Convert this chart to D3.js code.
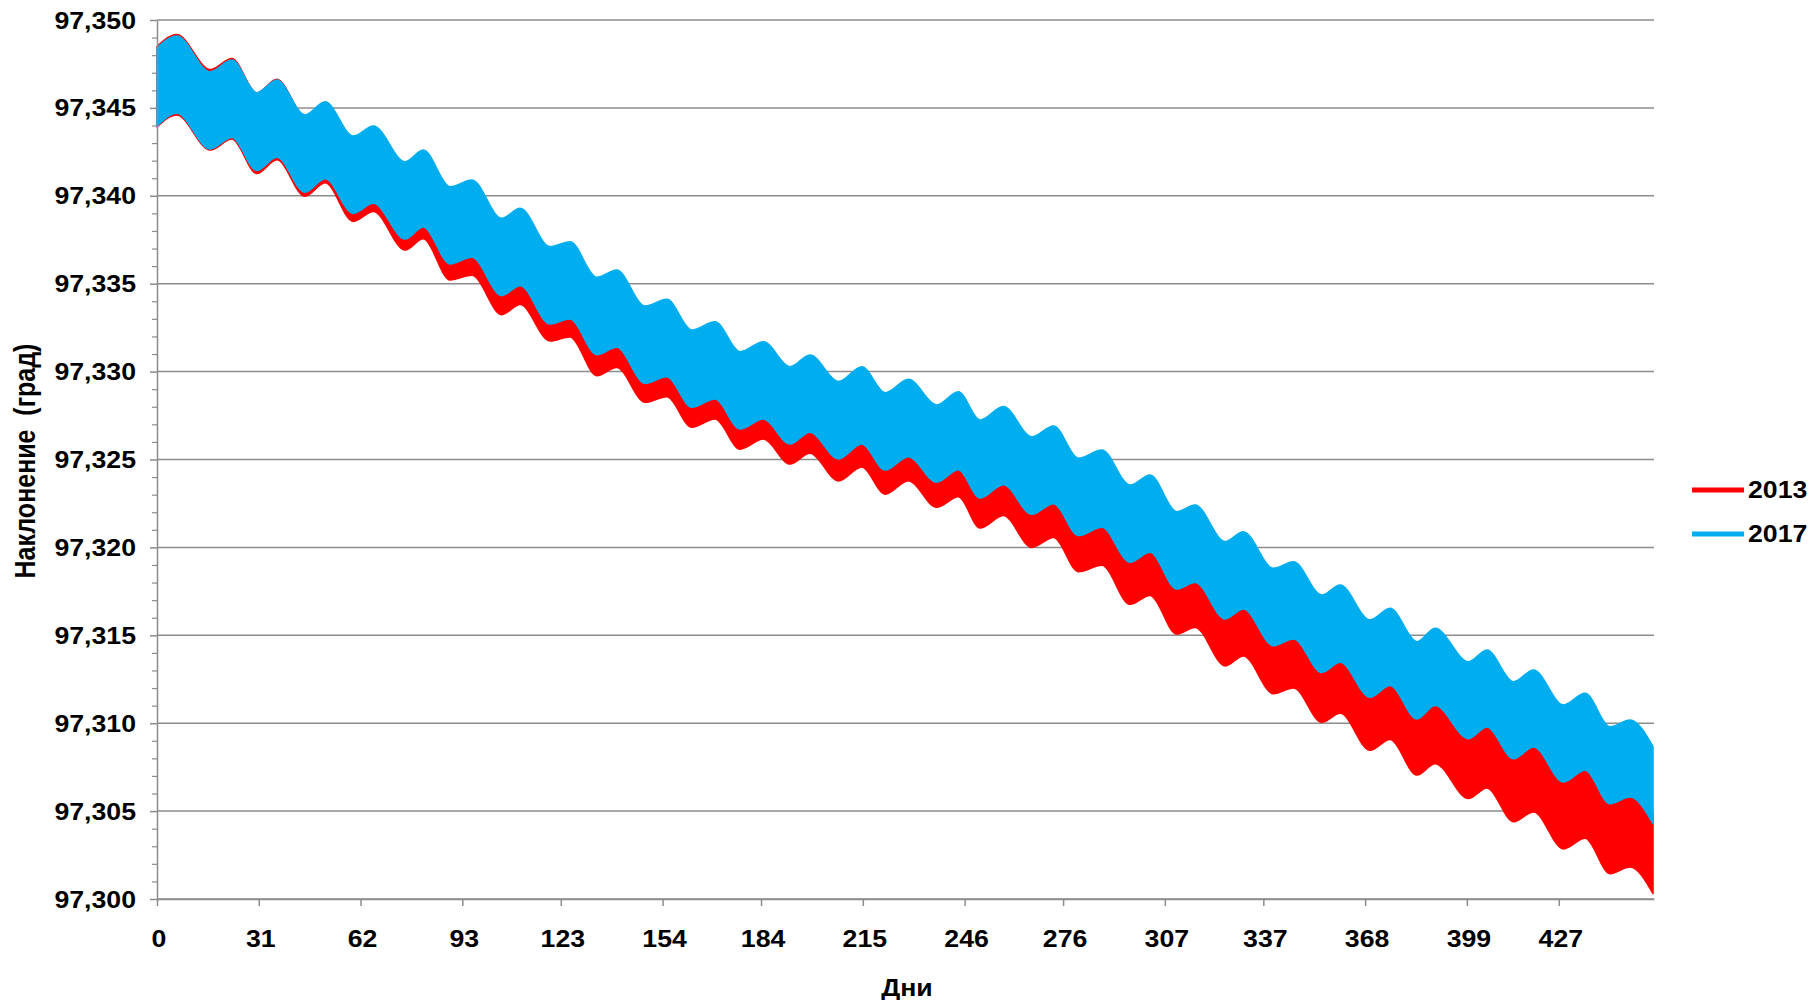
<!DOCTYPE html>
<html>
<head>
<meta charset="utf-8">
<script src="https://cdn.jsdelivr.net/npm/d3@7"></script>
<style>
  html, body { margin: 0; padding: 0; background: #ffffff; }
  svg text { font-family: "Liberation Sans", Arial, sans-serif; font-weight: bold; fill: #000; }
</style>
</head>
<body>
<svg id="chart" width="1816" height="1000"></svg>
<script>
// Envelope of the inclination oscillation: day of each turning point (peaks and troughs)
const days = [0, 6.0, 16.2, 22.8, 30.4, 36.5, 45.1, 51.2, 59.8, 65.9, 75.6, 81.1, 89.3, 95.9, 105.0, 110.6,
  119.7, 125.8, 134.0, 140.0, 148.7, 155.3, 162.9, 170.0, 177.6, 184.7, 192.8, 198.9, 207.6, 214.7, 221.8,
  228.9, 237.5, 244.1, 250.7, 257.8, 266.5, 273.1, 280.7, 287.8, 296.4, 302.5, 310.6, 316.2, 325.4, 330.9,
  340.1, 346.2, 354.8, 360.4, 369.5, 375.6, 383.8, 389.3, 399.5, 405.1, 413.2, 419.3, 428.4, 435.0, 442.6,
  448.7, 455.7];

// 2017: upper and lower envelope, degrees
const high2017 = [97.34841, 97.34909, 97.34706, 97.34772, 97.34586, 97.34659, 97.34460, 97.34535, 97.34340,
  97.34397, 97.34194, 97.34261, 97.34052, 97.34090, 97.33872, 97.33929, 97.33711, 97.33739, 97.33536, 97.33578,
  97.33373, 97.33411, 97.33237, 97.33284, 97.33113, 97.33170, 97.33028, 97.33095, 97.32943, 97.33028, 97.32880,
  97.32956, 97.32810, 97.32886, 97.32725, 97.32801, 97.32630, 97.32691, 97.32507, 97.32554, 97.32355, 97.32412,
  97.32203, 97.32241, 97.32033, 97.32089, 97.31881, 97.31919, 97.31729, 97.31786, 97.31587, 97.31654, 97.31464,
  97.31540, 97.31350, 97.31417, 97.31236, 97.31303, 97.31104, 97.31170, 97.30980, 97.31018, 97.30867];
const low2017 = [97.34397, 97.34469, 97.34266, 97.34332, 97.34144, 97.34219, 97.34020, 97.34097, 97.33900,
  97.33957, 97.33754, 97.33823, 97.33612, 97.33650, 97.33432, 97.33489, 97.33271, 97.33299, 97.33096, 97.33138,
  97.32933, 97.32971, 97.32797, 97.32844, 97.32673, 97.32730, 97.32588, 97.32655, 97.32503, 97.32588, 97.32440,
  97.32516, 97.32370, 97.32442, 97.32281, 97.32357, 97.32188, 97.32249, 97.32067, 97.32114, 97.31915, 97.31972,
  97.31763, 97.31801, 97.31593, 97.31649, 97.31441, 97.31479, 97.31289, 97.31346, 97.31147, 97.31214, 97.31024,
  97.31100, 97.30912, 97.30979, 97.30798, 97.30865, 97.30666, 97.30732, 97.30542, 97.30580, 97.30429];

// 2013: upper and lower envelope, degrees
const high2013 = [97.34849, 97.34918, 97.34718, 97.34781, 97.34585, 97.34663, 97.34455, 97.34532, 97.34312,
  97.34369, 97.34149, 97.34213, 97.33979, 97.34006, 97.33782, 97.33839, 97.33632, 97.33655, 97.33435, 97.33482,
  97.33283, 97.33315, 97.33141, 97.33188, 97.33017, 97.33074, 97.32932, 97.32994, 97.32836, 97.32915, 97.32761,
  97.32837, 97.32686, 97.32746, 97.32568, 97.32639, 97.32458, 97.32514, 97.32320, 97.32356, 97.32134, 97.32185,
  97.31965, 97.32003, 97.31784, 97.31840, 97.31626, 97.31658, 97.31463, 97.31514, 97.31304, 97.31365, 97.31163,
  97.31228, 97.31029, 97.31090, 97.30898, 97.30953, 97.30743, 97.30803, 97.30602, 97.30640, 97.30489];
const low2013 = [97.34391, 97.34460, 97.34260, 97.34323, 97.34127, 97.34205, 97.33997, 97.34074, 97.33854,
  97.33911, 97.33691, 97.33755, 97.33521, 97.33548, 97.33324, 97.33381, 97.33174, 97.33197, 97.32977, 97.33024,
  97.32825, 97.32857, 97.32683, 97.32730, 97.32559, 97.32616, 97.32474, 97.32536, 97.32378, 97.32457, 97.32303,
  97.32379, 97.32228, 97.32288, 97.32110, 97.32181, 97.32000, 97.32056, 97.31862, 97.31898, 97.31676, 97.31727,
  97.31507, 97.31545, 97.31326, 97.31382, 97.31168, 97.31200, 97.31005, 97.31056, 97.30846, 97.30907, 97.30705,
  97.30770, 97.30571, 97.30632, 97.30440, 97.30495, 97.30285, 97.30345, 97.30144, 97.30182, 97.30031];

const seriesNames = ["2013", "2017"];
const seriesColors = ["#ff0000", "#00aeef"];

const xTickValues = [0, 31, 62, 93, 123, 154, 184, 215, 246, 276, 307, 337, 368, 399, 427];
const yTickValues = [97.300, 97.305, 97.310, 97.315, 97.320, 97.325, 97.330, 97.335, 97.340, 97.345, 97.350];
const yMinorValues = d3.range(97300, 97351, 1).filter(v => v % 5 !== 0).map(v => v / 1000);

const yTitle = "Наклонение  (град)";
const xTitle = "Дни";

// ---- layout ----
const plot = { left: 157, right: 1654, top: 20, bottom: 899 };
const gridColor = "#8c8c8c";
const stretch = 1.16;     // labels are drawn slightly wide
const labelSize = 23;

const svg = d3.select("#chart");

const x = d3.scaleLinear().domain([0, 456]).range([plot.left, plot.right]);
const y = d3.scaleLinear().domain([97.300, 97.350]).range([plot.bottom, plot.top]);

const ruLocale = d3.formatLocale({ decimal: ",", thousands: " ", grouping: [3], currency: ["", ""] });
const fmtY = ruLocale.format(".3f");

// horizontal gridlines
svg.append("g")
  .selectAll("line")
  .data(yTickValues)
  .join("line")
  .attr("x1", plot.left).attr("x2", plot.right)
  .attr("y1", d => y(d)).attr("y2", d => y(d))
  .attr("stroke", gridColor).attr("stroke-width", 1.5);

// bands
const bandRows = days.map((d, i) => ({ d, h13: high2013[i], l13: low2013[i], h17: high2017[i], l17: low2017[i] }));

const area13 = d3.area().x(r => x(r.d)).y0(r => y(r.l13)).y1(r => y(r.h13)).curve(d3.curveMonotoneX);
const area17 = d3.area().x(r => x(r.d)).y0(r => y(r.l17)).y1(r => y(r.h17)).curve(d3.curveMonotoneX);

svg.append("path").datum(bandRows).attr("d", area13)
  .attr("fill", seriesColors[0]).attr("stroke", seriesColors[0]).attr("stroke-width", 1.5)
  .attr("stroke-linejoin", "round");
svg.append("path").datum(bandRows).attr("d", area17)
  .attr("fill", seriesColors[1]).attr("stroke", seriesColors[1]).attr("stroke-width", 1.5)
  .attr("stroke-linejoin", "round");

// y axis: major ticks with labels
const yAxis = svg.append("g")
  .attr("transform", `translate(${plot.left},0)`)
  .call(d3.axisLeft(y).tickValues(yTickValues).tickSize(7).tickSizeOuter(0).tickFormat(fmtY));
yAxis.select(".domain").attr("stroke", gridColor).attr("stroke-width", 1.5);
yAxis.selectAll(".tick line").attr("stroke", gridColor).attr("stroke-width", 1.5);
yAxis.selectAll(".tick text")
  .attr("x", null).attr("dy", null)
  .attr("transform", `translate(-21,8) scale(${stretch},1)`)
  .attr("text-anchor", "end")
  .style("font-size", labelSize + "px");

// y axis: minor ticks
const yMinor = svg.append("g")
  .attr("transform", `translate(${plot.left},0)`)
  .call(d3.axisLeft(y).tickValues(yMinorValues).tickSize(5).tickSizeOuter(0).tickFormat(""));
yMinor.select(".domain").remove();
yMinor.selectAll(".tick line").attr("stroke", gridColor).attr("stroke-width", 1.2);

// x axis
const xAxis = svg.append("g")
  .attr("transform", `translate(0,${plot.bottom})`)
  .call(d3.axisBottom(x).tickValues(xTickValues).tickSize(7).tickSizeOuter(0).tickFormat(d3.format("d")));
xAxis.select(".domain").attr("stroke", gridColor).attr("stroke-width", 1.5);
xAxis.selectAll(".tick line").attr("stroke", gridColor).attr("stroke-width", 1.5);
xAxis.selectAll(".tick text")
  .attr("y", null).attr("dy", null)
  .attr("transform", `translate(1.5,48) scale(${stretch},1)`)
  .attr("text-anchor", "middle")
  .style("font-size", labelSize + "px");

// axis titles
svg.append("text")
  .attr("transform", `translate(35,461) rotate(-90) scale(1,${stretch})`)
  .attr("text-anchor", "middle")
  .style("font-size", "25px")
  .style("white-space", "pre")
  .text(yTitle);

svg.append("text")
  .attr("transform", `translate(907,996) scale(${stretch},1)`)
  .attr("text-anchor", "middle")
  .style("font-size", labelSize + "px")
  .text(xTitle);

// legend
const legend = svg.append("g").attr("transform", "translate(1692,490)");
const items = legend.selectAll("g").data(seriesNames).join("g")
  .attr("transform", (d, i) => `translate(0,${i * 44})`);
items.append("line")
  .attr("x1", 0).attr("x2", 52).attr("y1", 0).attr("y2", 0)
  .attr("stroke", (d, i) => seriesColors[i]).attr("stroke-width", 5).attr("stroke-linecap", "butt");
items.append("text")
  .attr("transform", `translate(56,8) scale(${stretch},1)`)
  .style("font-size", labelSize + "px")
  .text(d => d);
</script>
</body>
</html>
